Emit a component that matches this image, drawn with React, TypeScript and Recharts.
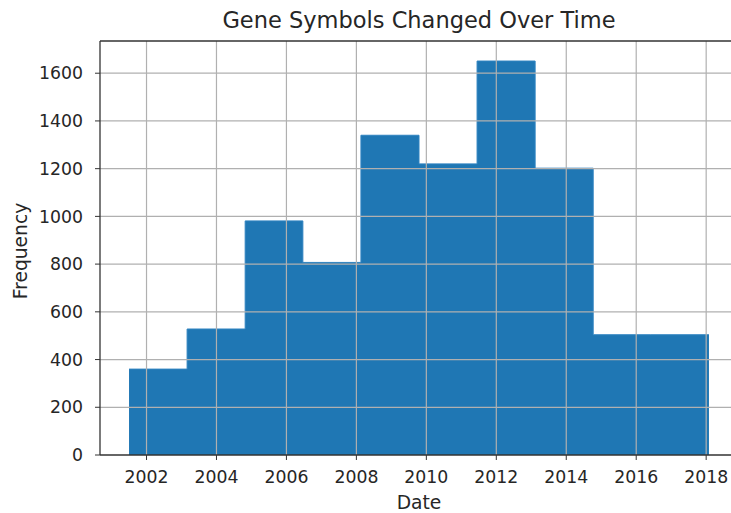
import { ComposedChart, Area, XAxis, YAxis, ReferenceLine } from 'recharts';

// histogram bin edges (years) and counts per bin
const binEdges = [2001.5, 2003.16, 2004.82, 2006.47, 2008.13, 2009.79, 2011.45, 2013.11, 2014.77, 2016.42, 2018.08];
const counts = [360, 528, 981, 807, 1340, 1220, 1651, 1202, 504, 504];
const xTicks = [2002, 2004, 2006, 2008, 2010, 2012, 2014, 2016, 2018];
const yTicks = [0, 200, 400, 600, 800, 1000, 1200, 1400, 1600];
const Y_MAX = 1735;

const FONT = '"DejaVu Sans", sans-serif';
const TEXT = '#262626';
const GRID = '#b0b0b0';
const SPINE = '#333';
const TICK_SIZE = 17.3;
const LABEL_SIZE = 18.7;

// stepAfter needs one extra point at the last edge
const data = binEdges.map((x, i) => ({ x, count: counts[Math.min(i, counts.length - 1)] }));

function FreqLabel(props: any) {
  const vb = props.viewBox || {};
  const cx = vb.x + 20;
  const cy = vb.y + vb.height / 2 + 3;
  return (
    <text
      x={cx}
      y={cy}
      transform={`rotate(-90, ${cx}, ${cy})`}
      textAnchor="middle"
      dominantBaseline="central"
      fill={TEXT}
      fontSize={LABEL_SIZE}
      fontFamily={FONT}
    >
      Frequency
    </text>
  );
}

export default function App() {
  return (
    <div style={{ position: 'absolute', left: 0, top: 0, width: 731, height: 513, overflow: 'hidden', background: '#fff', fontFamily: FONT }}>
      <div style={{ position: 'absolute', left: 100, width: 638, top: 7, textAlign: 'center', fontSize: 22.5, color: TEXT, whiteSpace: 'nowrap' }}>
        Gene Symbols Changed Over Time
      </div>
      <ComposedChart width={742} height={513} data={data} margin={{ top: 41, right: 4, bottom: 0, left: 0 }}>
        <XAxis
          type="number"
          dataKey="x"
          domain={[2000.67, 2018.91]}
          allowDataOverflow
          ticks={xTicks}
          height={58}
          tickSize={5}
          tickMargin={11}
          tick={{ fill: TEXT, fontSize: TICK_SIZE, fontFamily: FONT }}
          tickLine={{ stroke: SPINE }}
          axisLine={{ stroke: SPINE, strokeWidth: 1.3 }}
          label={{ value: 'Date', position: 'insideBottom', offset: 4, fill: TEXT, fontSize: LABEL_SIZE, fontFamily: FONT }}
        />
        <YAxis
          type="number"
          domain={[0, Y_MAX]}
          allowDataOverflow
          ticks={yTicks}
          width={100}
          tickSize={5}
          tickMargin={12}
          tick={{ fill: TEXT, fontSize: TICK_SIZE, fontFamily: FONT }}
          tickLine={{ stroke: SPINE }}
          axisLine={{ stroke: SPINE, strokeWidth: 1.3 }}
          label={{ content: FreqLabel }}
        />
        <Area
          type="stepAfter"
          dataKey="count"
          baseValue={0}
          fill="#1f77b4"
          fillOpacity={1}
          stroke="#2f83c0"
          strokeWidth={1}
          dot={false}
          activeDot={false}
          isAnimationActive={false}
        />
        {xTicks.map((t) => (
          <ReferenceLine key={`vx-${t}`} x={t} stroke={GRID} strokeWidth={1.2} />
        ))}
        {yTicks.filter((t) => t > 0).map((t) => (
          <ReferenceLine key={`hy-${t}`} y={t} stroke={GRID} strokeWidth={1.2} />
        ))}
        <ReferenceLine y={Y_MAX} stroke={SPINE} strokeWidth={1.3} />
      </ComposedChart>
    </div>
  );
}
